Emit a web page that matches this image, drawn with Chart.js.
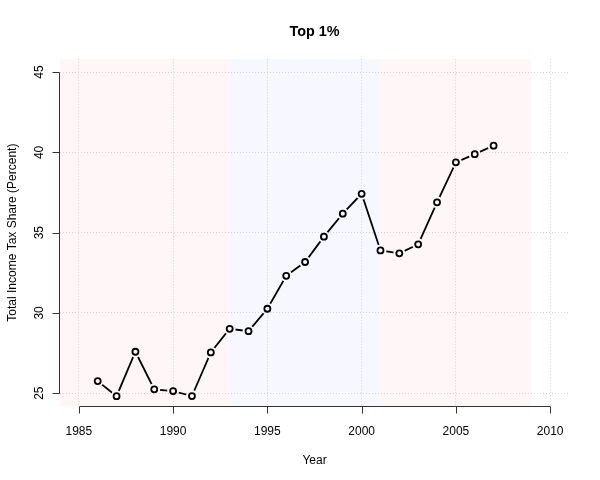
<!DOCTYPE html>
<html>
<head>
<meta charset="utf-8">
<script src="https://cdn.jsdelivr.net/npm/chart.js@4.4.0/dist/chart.umd.min.js"></script>
<style>
    html, body { margin: 0; padding: 0; background: #fff; }
</style>
</head>
<body>
<canvas id="chart" width="600" height="480"></canvas>
<script>
// data
const years = [1986, 1987, 1988, 1989, 1990, 1991, 1992, 1993, 1994, 1995, 1996,
               1997, 1998, 1999, 2000, 2001, 2002, 2003, 2004, 2005, 2006, 2007];
const shares = [25.75, 24.81, 27.58, 25.24, 25.13, 24.82, 27.54, 29.01, 28.86, 30.26, 32.31,
                33.17, 34.75, 36.18, 37.42, 33.89, 33.71, 34.27, 36.89, 39.38, 39.89, 40.42];

const xTicks = [1985, 1990, 1995, 2000, 2005, 2010];
const yTicks = [25, 30, 35, 40, 45];

// shaded periods (background bands)
const periodStart = [1984, 1993, 2001];
const periodEnd = [1993, 2001, 2009];
const periodColors = ['#fff7f7', '#f7f7ff', '#fff7f7'];

const FONT = '"Liberation Sans", Arial, Helvetica, sans-serif';
const GAP = 6; // type="b" gap around points

const points = years.map((yr, i) => ({ x: yr, y: shares[i] }));

// R base graphics look: bands, gapped line, axes
const rStyle = {
    id: 'rStyle',
    beforeDraw(chart) {
        const { ctx, chartArea: a, scales: { x } } = chart;
        ctx.save();
        periodStart.forEach((s, i) => {
            const x0 = x.getPixelForValue(s);
            const x1 = x.getPixelForValue(periodEnd[i]);
            ctx.fillStyle = periodColors[i];
            ctx.fillRect(x0, a.top, x1 - x0, a.bottom - a.top);
        });
        ctx.restore();
    },
    beforeDatasetDraw(chart, args) {
        if (args.index !== 0) return;
        const ctx = chart.ctx;
        ctx.save();
        ctx.beginPath();
        ctx.rect(0, 0, chart.width, chart.height);
        args.meta.data.forEach(p => {
            ctx.moveTo(p.x + GAP, p.y);
            ctx.arc(p.x, p.y, GAP, 0, Math.PI * 2);
        });
        ctx.clip('evenodd');
    },
    afterDatasetDraw(chart, args) {
        if (args.index === 0) chart.ctx.restore();
    },
    afterDraw(chart) {
        const { ctx, chartArea: a, scales: { x, y } } = chart;
        ctx.save();
        ctx.strokeStyle = '#333';
        ctx.lineWidth = 1;
        ctx.fillStyle = '#000';
        ctx.font = '12px ' + FONT;

        // x axis
        const xb = Math.round(a.bottom) + 0.5;
        ctx.beginPath();
        ctx.moveTo(Math.round(x.getPixelForValue(xTicks[0])) + 0.5, xb);
        ctx.lineTo(Math.round(x.getPixelForValue(xTicks[xTicks.length - 1])) + 0.5, xb);
        xTicks.forEach(t => {
            const px = Math.round(x.getPixelForValue(t)) + 0.5;
            ctx.moveTo(px, xb);
            ctx.lineTo(px, xb + 7);
        });
        ctx.stroke();
        ctx.textAlign = 'center';
        ctx.textBaseline = 'middle';
        xTicks.forEach(t => ctx.fillText(String(t), x.getPixelForValue(t), a.bottom + 26));
        ctx.fillText('Year', (a.left + a.right) / 2, a.bottom + 55);

        // y axis
        const yl = Math.round(a.left) - 0.5;
        ctx.beginPath();
        ctx.moveTo(yl, Math.round(y.getPixelForValue(yTicks[0])) + 0.5);
        ctx.lineTo(yl, Math.round(y.getPixelForValue(yTicks[yTicks.length - 1])) + 0.5);
        yTicks.forEach(t => {
            const py = Math.round(y.getPixelForValue(t)) + 0.5;
            ctx.moveTo(yl, py);
            ctx.lineTo(yl - 7, py);
        });
        ctx.stroke();
        yTicks.forEach(t => {
            ctx.save();
            ctx.translate(a.left - 20, y.getPixelForValue(t));
            ctx.rotate(-Math.PI / 2);
            ctx.fillText(String(t), 0, 0);
            ctx.restore();
        });
        ctx.save();
        ctx.translate(13, (a.top + a.bottom) / 2);
        ctx.rotate(-Math.PI / 2);
        ctx.fillText('Total Income Tax Share (Percent)', 0, 0);
        ctx.restore();

        ctx.restore();
    }
};

new Chart(document.getElementById('chart'), {
    type: 'line',
    data: {
        datasets: [
            {
                data: points,
                borderColor: '#000',
                borderWidth: 1.8,
                pointRadius: 0,
                tension: 0
            },
            {
                data: points,
                showLine: false,
                pointRadius: 3,
                pointBorderWidth: 1.8,
                pointBorderColor: '#000',
                pointBackgroundColor: 'rgba(0,0,0,0)'
            }
        ]
    },
    options: {
        responsive: false,
        animation: false,
        devicePixelRatio: 1,
        layout: { padding: { left: 0, right: 31, top: 0, bottom: 0 } },
        plugins: {
            legend: { display: false },
            tooltip: { enabled: false },
            title: {
                display: true,
                text: 'Top 1%',
                fullSize: false,
                color: '#000',
                font: { family: FONT, size: 14.4, weight: 'bold' },
                padding: { top: 23, bottom: 19 }
            }
        },
        scales: {
            x: {
                type: 'linear',
                min: 1984,
                max: 2011,
                afterBuildTicks: s => { s.ticks = xTicks.map(v => ({ value: v })); },
                afterFit: s => { s.height = 74; },
                ticks: { display: false },
                grid: { color: '#d3d3d3', lineWidth: 1, drawTicks: false },
                border: { display: false, dash: [1, 2] }
            },
            y: {
                min: 24.2,
                max: 45.8,
                afterBuildTicks: s => { s.ticks = yTicks.map(v => ({ value: v })); },
                afterFit: s => { s.width = 60; },
                ticks: { display: false },
                grid: { color: '#d3d3d3', lineWidth: 1, drawTicks: false },
                border: { display: false, dash: [1, 2] }
            }
        }
    },
    plugins: [rStyle]
});
</script>
</body>
</html>
